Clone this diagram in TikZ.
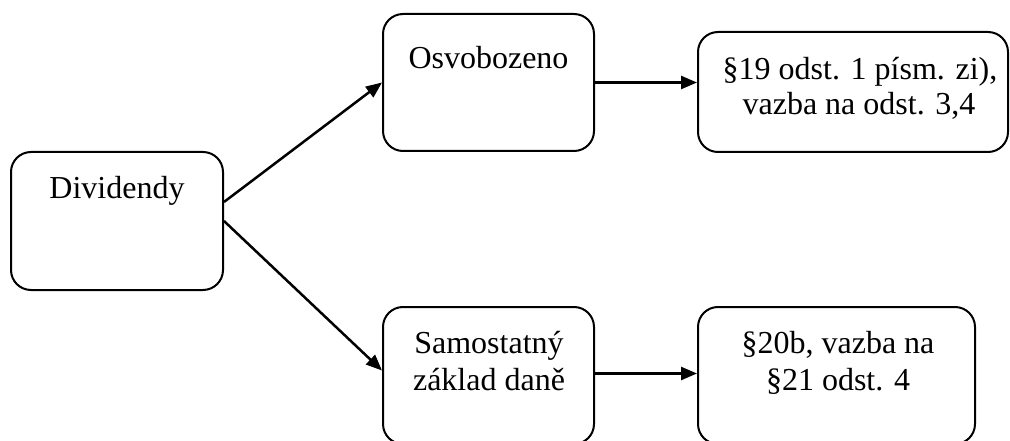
\documentclass[tikz,border=0pt]{standalone}
\usepackage{fontspec}
\setmainfont{Liberation Serif}
\usetikzlibrary{arrows.meta}
\tikzset{
  box/.style={draw=black, line width=2pt, rounded corners=20pt, rectangle, inner sep=0pt, fill=white},
  txt/.style={anchor=base, inner sep=0pt, font=\fontsize{32}{36}\selectfont},
  conn/.style={line width=2.5pt, -{Triangle[length=16pt,width=13pt]}, shorten >=0pt}
}
\begin{document}
\begin{tikzpicture}[x=1pt,y=-1pt]
\useasboundingbox (0,0) rectangle (1010,441);
\clip (0,0) rectangle (1010,441);
\fill[white] (0,0) rectangle (1010,441);
% boxes
\node[box, minimum width=212pt, minimum height=138pt] (div) at (117,221) {};
\node[box, minimum width=211pt, minimum height=137pt] (osv) at (488.5,82.5) {};
\node[box, minimum width=310pt, minimum height=120pt] (p19) at (853,92) {};
\node[box, minimum width=211pt, minimum height=137pt] (samo) at (488.5,375.5) {};
\node[box, minimum width=277pt, minimum height=137pt] (p20) at (836.5,375.5) {};
% texts
\node[txt] (tdiv) at (117,199) {Dividendy};
\node[txt] (tosv) at (488.5,69) {Osvobozeno};
\node[txt] (t19a) at (860,80) {§19 odst. 1 písm. zi),};
\node[txt] (t19b) at (859,115) {vazba na odst. 3,4};
\node[txt] (tsa) at (489,353) {Samostatný};
\node[txt] (tsb) at (489,390) {základ daně};
\node[txt] (t20a) at (838,353) {§20b, vazba na};
\node[txt] (t20b) at (838,390) {§21 odst. 4};
% connectors
\draw[conn] ([yshift=19pt]div.east) -- (osv.west);
\draw[conn] (div.east) -- ([yshift=5pt]samo.west);
\draw[conn] (osv.east) -- (osv.east -| p19.west);
\draw[conn] ([yshift=2pt]samo.east) -- ([yshift=2pt]samo.east -| p20.west);
\end{tikzpicture}
\end{document}
